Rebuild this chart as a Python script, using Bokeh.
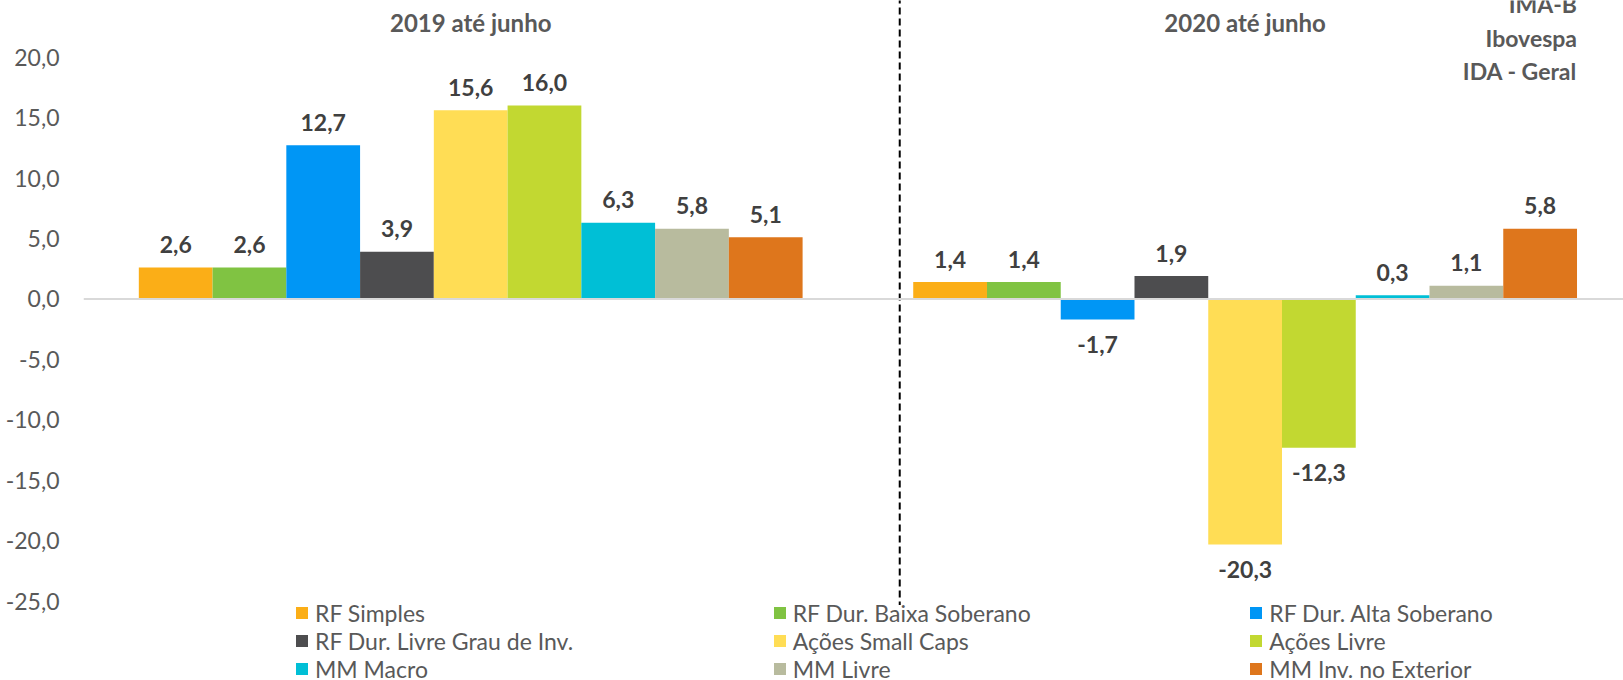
from bokeh.plotting import figure
from bokeh.models import (ColumnDataSource, FixedTicker, CustomJSTickFormatter, Span,
                          Legend, LegendItem)
from bokeh.core.properties import value
from bokeh.embed import file_html
from bokeh.resources import INLINE

# ---------------- data ----------------
periods = ["2019 até junho", "2020 até junho"]
series = ["RF Simples", "RF Dur. Baixa Soberano", "RF Dur. Alta Soberano",
          "RF Dur. Livre Grau de Inv.", "Ações Small Caps", "Ações Livre",
          "MM Macro", "MM Livre", "MM Inv. no Exterior"]
values_2019 = [2.6, 2.6, 12.7, 3.9, 15.6, 16.0, 6.3, 5.8, 5.1]
values_2020 = [1.4, 1.4, -1.7, 1.9, -20.3, -12.3, 0.3, 1.1, 5.8]
colors = ["#FBAE17", "#80C342", "#0096F5", "#4D4D4F", "#FFDD55",
          "#C2D831", "#00BFD6", "#B8BB9E", "#DE761C"]
index_names = ["IMA-B", "Ibovespa", "IDA - Geral"]
y_ticks = [-25, -20, -15, -10, -5, 0, 5, 10, 15, 20]

FONT = value("Lato")
n = len(series)
bar_w = 1.0 / (n + 1.5)

p = figure(width=1623, height=680, output_backend="svg", toolbar_location=None,
           x_range=(-0.5, 1.4886), y_range=(-31.53, 24.67),
           min_border_left=83, min_border_right=0, min_border_top=0, min_border_bottom=0)
p.xaxis.visible = False
p.xgrid.visible = False
p.ygrid.visible = False
p.outline_line_color = None
p.background_fill_color = "white"
p.border_fill_color = "white"

yax = p.yaxis[0]
yax.ticker = FixedTicker(ticks=y_ticks)
yax.formatter = CustomJSTickFormatter(code="return tick.toFixed(1).replace('.', ',');")
yax.axis_line_color = None
yax.major_tick_line_color = None
yax.minor_tick_line_color = None
yax.major_tick_out = 0
yax.major_tick_in = 0
yax.major_label_standoff = 24
yax.major_label_text_font = "Lato"
yax.major_label_text_font_size = "23px"
yax.major_label_text_color = "#595959"

# zero line
p.add_layout(Span(location=0, dimension="width", line_color="#D9D9D9", line_width=2))

# separator between the two periods
sep_x = 0.554
p.segment(x0=[sep_x], y0=[25.0], x1=[sep_x], y1=[-25.3], line_color="#000000",
          line_width=2, line_dash="7 4")

renderers = []
lx, ly, ltxt, loff = [], [], [], []
for i in range(n):
    off = (i - (n - 1) / 2) * bar_w
    xs = [0 + off, 1 + off]
    tops = [values_2019[i], values_2020[i]]
    src = ColumnDataSource(dict(x=xs, top=tops))
    r = p.vbar(x="x", top="top", bottom=0, width=bar_w, source=src,
               fill_color=colors[i], line_color=None)
    renderers.append(r)
    for xv, tv in zip(xs, tops):
        lx.append(xv)
        ly.append(tv)
        ltxt.append(f"{tv:.1f}".replace(".", ","))
        loff.append(-23 if tv >= 0 else 25)

lab = ColumnDataSource(dict(x=lx, y=ly, t=ltxt, off=loff))
p.text(x="x", y="y", text="t", y_offset="off", source=lab, text_align="center",
       text_baseline="middle", text_font=FONT, text_font_size="23px",
       text_font_style="bold", text_color="#404040")

# period titles
p.text(x=[0, 1], y=[22.88, 22.88], text=periods, text_align="center",
       text_baseline="middle", text_font=FONT, text_font_size="24px",
       text_font_style="bold", text_color="#595959")

# index names at top right
right_x = 1 + ((n - 1) / 2 + 0.5) * bar_w
p.text(x=[right_x] * 3, y=[24.34, 21.61, 18.88], text=index_names, text_align="right",
       text_baseline="middle", text_font=FONT, text_font_size="23px",
       text_font_style="bold", text_color="#595959")

# legend: three columns
col_x = [211, 688.7, 1165.3]
for c in range(3):
    items = [LegendItem(label=series[k], renderers=[renderers[k]]) for k in (c, c + 3, c + 6)]
    lg = Legend(items=items, location=(col_x[c], -2.7), orientation="vertical",
                padding=0, margin=0, spacing=0, border_line_alpha=0,
                background_fill_alpha=0, glyph_width=15, glyph_height=15,
                label_height=28, label_standoff=6, label_text_font="Lato",
                label_text_font_size="23px", label_text_color="#595959",
                label_text_baseline="middle")
    p.add_layout(lg)

open("out.html", "w").write(file_html(p, INLINE))
